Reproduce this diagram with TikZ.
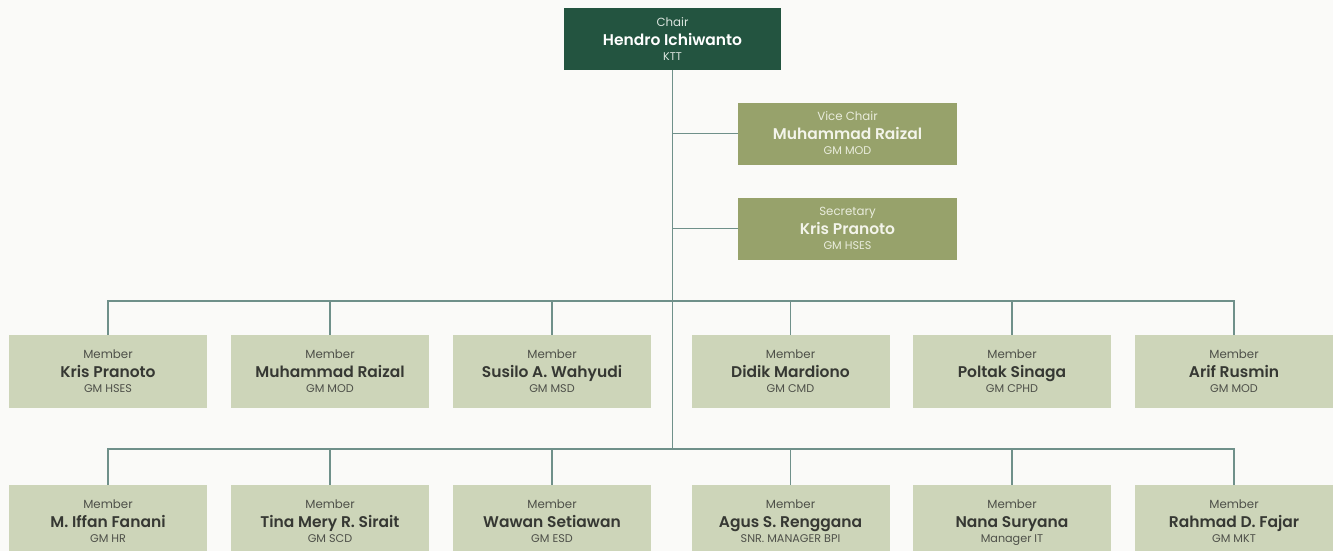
\documentclass[tikz,border=0pt]{standalone}
\usepackage{fontspec}
\setmainfont{Poppins}
\IfFontExistsTF{Poppins SemiBold}
  {\newfontfamily\pname{Poppins SemiBold}}
  {\IfFontExistsTF{Poppins Medium}
     {\newfontfamily\pname{Poppins Medium}}
     {\newcommand\pname{\bfseries}}}

\definecolor{bgc}{HTML}{FAFAF8}
\definecolor{chairc}{HTML}{235440}
\definecolor{olivec}{HTML}{97A26B}
\definecolor{memberc}{HTML}{CDD5B9}
\definecolor{linec}{HTML}{6F908A}
\definecolor{memname}{HTML}{363833}
\definecolor{memsub}{HTML}{4E5049}
\definecolor{chairsub}{HTML}{DCE5DF}
\definecolor{olivename}{HTML}{F3F4EA}
\definecolor{olivesub}{HTML}{E9ECDC}

% role / name / department inside one box
\newcommand\card[3]{%
  {\fontsize{11.8}{17}\selectfont\color{subc}#1}\\[2.0pt]%
  {\pname\fontsize{15.5}{17}\selectfont #2}\\[-2.0pt]%
  {\fontsize{11.2}{17}\selectfont\color{subc}#3}}

\tikzset{
  box/.style={rectangle, inner sep=0pt, align=center, text depth=0pt},
  chairbox/.style={box, fill=chairc, minimum width=217pt, minimum height=62pt,
    text=white, font={\colorlet{subc}{chairsub}\fontsize{10}{17}\selectfont}},
  olivebox/.style={box, fill=olivec, minimum width=219pt, minimum height=62pt,
    text=olivename, font={\colorlet{subc}{olivesub}\fontsize{10}{17}\selectfont}},
  memberbox/.style={box, fill=memberc, minimum width=198pt, minimum height=73pt,
    text=memname, font={\colorlet{subc}{memsub}\fontsize{10}{17}\selectfont}},
  conn/.style={draw=linec, line width=1.6pt}
}

\begin{document}
\begin{tikzpicture}[x=1pt, y=-1pt]
  \useasboundingbox (0,0) rectangle (1333,551);
  \clip (0,0) rectangle (1333,551);
  \fill[bgc] (0,0) rectangle (1333,551);

  % bus lines
  \coordinate (bus1) at (672.5,301);
  \coordinate (bus2) at (672.5,449);

  % leadership
  \node[chairbox] (chair) at (672.5,39) {\card{Chair}{Hendro Ichiwanto}{KTT}};
  \node[olivebox] (vice) at (847.5,133.5) {\card{Vice Chair}{Muhammad Raizal}{GM MOD}};
  \node[olivebox] (sec) at (847.5,228.5) {\card{Secretary}{Kris Pranoto}{GM HSES}};

  % first row of members
  \node[memberbox] (a1) at (108,371.5)   {\card{Member}{Kris Pranoto}{GM HSES}};
  \node[memberbox] (a2) at (330,371.5)   {\card{Member}{Muhammad Raizal}{GM MOD}};
  \node[memberbox] (a3) at (552,371.5)   {\card{Member}{Susilo A. Wahyudi}{GM MSD}};
  \node[memberbox] (a4) at (790.5,371.5) {\card{Member}{Didik Mardiono}{GM CMD}};
  \node[memberbox] (a5) at (1012,371.5)  {\card{Member}{Poltak Sinaga}{GM CPHD}};
  \node[memberbox] (a6) at (1234,371.5)  {\card{Member}{Arif Rusmin}{GM MOD}};

  % second row of members
  \node[memberbox] (b1) at (108,521.5)   {\card{Member}{M. Iffan Fanani}{GM HR}};
  \node[memberbox] (b2) at (330,521.5)   {\card{Member}{Tina Mery R. Sirait}{GM SCD}};
  \node[memberbox] (b3) at (552,521.5)   {\card{Member}{Wawan Setiawan}{GM ESD}};
  \node[memberbox] (b4) at (790.5,521.5) {\card{Member}{Agus S. Renggana}{SNR. MANAGER BPI}};
  \node[memberbox] (b5) at (1012,521.5)  {\card{Member}{Nana Suryana}{Manager IT}};
  \node[memberbox] (b6) at (1234,521.5)  {\card{Member}{Rahmad D. Fajar}{GM MKT}};

  % trunk and branches
  \draw[conn] (chair.south) -- (bus2);
  \draw[conn] (chair.south |- vice.west) -- (vice.west);
  \draw[conn] (chair.south |- sec.west) -- (sec.west);

  \draw[conn] (a1.north) |- (bus1) -| (a6.north);
  \foreach \n in {a2,a3,a4,a5} \draw[conn] (\n.north) -- (\n.north |- bus1);

  \draw[conn] (b1.north) |- (bus2) -| (b6.north);
  \foreach \n in {b2,b3,b4,b5} \draw[conn] (\n.north) -- (\n.north |- bus2);
\end{tikzpicture}
\end{document}
